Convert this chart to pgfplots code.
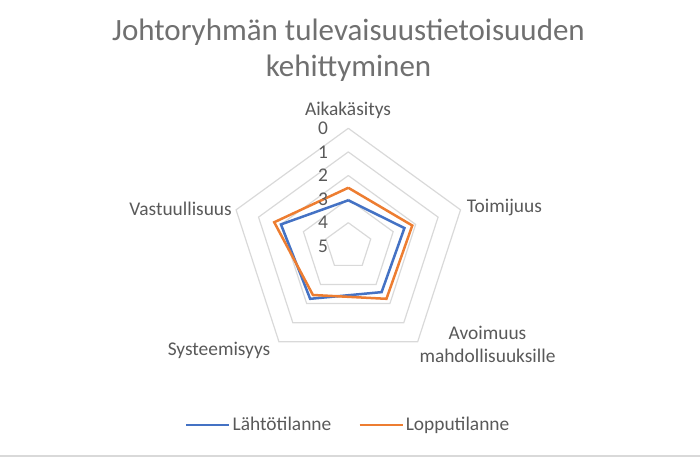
\documentclass[border=0pt]{standalone}
\usepackage{fontspec}
\setmainfont{Carlito}
\usepackage{pgfplots}
\pgfplotsset{compat=1.18}
\usepackage{pgfplotstable}
\usepgfplotslibrary{polar}
\definecolor{cblue}{HTML}{4472C4}
\definecolor{corange}{HTML}{ED7D31}
\definecolor{cgrid}{HTML}{D9D9D9}
\definecolor{ctext}{HTML}{595959}
\definecolor{ctitle}{HTML}{707070}

% angle: Aikakasitys 90, Toimijuus 18, Avoimuus 306, Systeemisyys 234, Vastuullisuus 162
\pgfplotstableread{
angle value
90  3.05
18  2.50
306 2.60
234 2.25
162 2.00
90  3.05
}\lahto
\pgfplotstableread{
angle value
90  2.52
18  2.15
306 2.25
234 2.45
162 1.70
90  2.52
}\loppu

\begin{document}
\begin{tikzpicture}[x=1bp,y=1bp]
\useasboundingbox (0,0) rectangle (700,-458);
\begin{polaraxis}[
  at={(348.3bp,-246.3bp)}, anchor=center,
  scale only axis, width=236bp, height=236bp,
  ymin=0, ymax=5, xmin=0, xmax=360,
  hide axis, grid=none, xtick=\empty, ytick=\empty,
  clip=false,
  legend columns=2,
  legend style={at={(0.5,-0.257)}, anchor=center, draw=none, fill=none,
    font=\fontsize{19.4bp}{23bp}\selectfont, text=ctext,
    /tikz/every even column/.append style={column sep=25bp}},
  legend image code/.code={\draw[#1] (0bp,0bp) -- (43bp,0bp);},
]
% grid pentagons (axis value 0..4 -> radius 5..1)
\addplot[cgrid, line width=1.2bp, forget plot] coordinates {(90,5) (18,5) (306,5) (234,5) (162,5) (90,5)};
\addplot[cgrid, line width=1.2bp, forget plot] coordinates {(90,4) (18,4) (306,4) (234,4) (162,4) (90,4)};
\addplot[cgrid, line width=1.2bp, forget plot] coordinates {(90,3) (18,3) (306,3) (234,3) (162,3) (90,3)};
\addplot[cgrid, line width=1.2bp, forget plot] coordinates {(90,2) (18,2) (306,2) (234,2) (162,2) (90,2)};
\addplot[cgrid, line width=1.2bp, forget plot] coordinates {(90,1) (18,1) (306,1) (234,1) (162,1) (90,1)};
% data (reversed radial axis: radius = 5 - value)
\addplot[cblue, line width=2.5bp, line join=miter] table[x=angle, y expr=5-\thisrow{value}] {\lahto};
\addlegendentry{Lähtötilanne}
\addplot[corange, line width=2.5bp, line join=miter] table[x=angle, y expr=5-\thisrow{value}] {\loppu};
\addlegendentry{Lopputilanne}
\end{polaraxis}

% title
\node[text=ctitle, font=\fontsize{31bp}{36bp}\selectfont, align=center] at (348.5,-50) {Johtoryhmän tulevaisuustietoisuuden\\kehittyminen};

% category labels
\begin{scope}[every node/.style={text=ctext, font=\fontsize{19.4bp}{23bp}\selectfont, inner sep=0pt}]
\node at (348,-110) {Aikakäsitys};
\node[anchor=west] at (466.7,-207.5) {Toimijuus};
\node[align=center] at (487.5,-344.5) {Avoimuus\\mahdollisuuksille};
\node at (219,-350) {Systeemisyys};
\node[anchor=east] at (232,-209) {Vastuullisuus};
% radial tick labels (reversed)
\node at (323,-128.3) {0};
\node at (323,-151.9) {1};
\node at (323,-175.5) {2};
\node at (323,-199.1) {3};
\node at (323,-222.7) {4};
\node at (323,-246.3) {5};
\end{scope}

\draw[cgrid, line width=1.5bp] (0,-456) -- (700,-456);
\end{tikzpicture}
\end{document}
